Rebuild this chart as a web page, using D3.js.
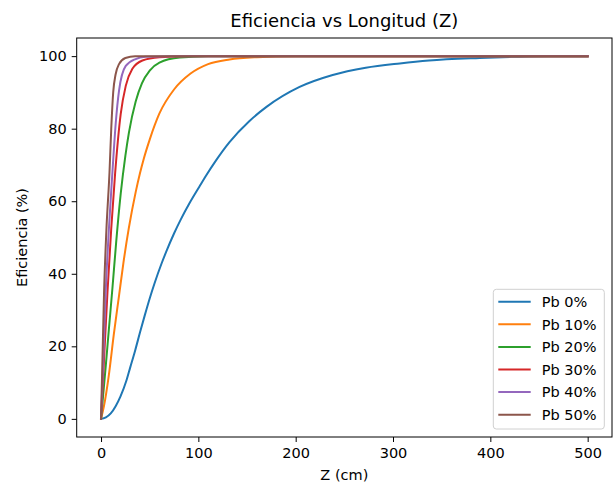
<!DOCTYPE html>
<html>
<head>
<meta charset="utf-8">
<script src="https://cdn.jsdelivr.net/npm/d3@7"></script>
<style>
  html, body { margin: 0; padding: 0; background: #fff; }
  svg { display: block; }
  text { font-family: "DejaVu Sans", sans-serif; fill: #000; }
</style>
</head>
<body>
<svg id="chart" width="614" height="484"></svg>
<script>
// ---- data ----
const seriesNames = ["Pb 0%", "Pb 10%", "Pb 20%", "Pb 30%", "Pb 40%", "Pb 50%"];
const seriesColors = ["#1f77b4", "#ff7f0e", "#2ca02c", "#d62728", "#9467bd", "#8c564b"];

const pb0 = [[0,0],[5,0.4],[10,1.5],[15,3.5],[20,6.2],[26,10.5],[30,14.2],[35,18.8],[40,23.8],[45,28.6],[50,33.2],[55,37.4],[62,42.7],[67,46.1],[75,51.1],[82,55],[91,59.5],[101,64],[108,67.1],[118,71.2],[132,76.3],[152,82],[170,86],[204,91.5],[238,94.8],[272,96.8],[307,98],[337,98.8],[389,99.5],[422,99.8],[460,99.95],[500,100]];
const pb10 = [[0,0],[3,3.5],[8,12],[13,23],[18.5,34],[23,43],[28.5,52.5],[35.6,62.5],[40,67.7],[44,71.8],[50,77],[60,84.2],[75,90.8],[92,95.2],[110,97.8],[132,99.1],[160,99.7],[200,99.95],[500,100]];
const pb20 = [[0,0],[2,6],[5,15],[8,24.5],[11.7,36],[15.5,48.5],[20.2,62],[25,72.5],[28.7,79],[35.6,87.5],[42,92.5],[50,96],[60,98.2],[81,99.6],[110,99.95],[150,100],[500,100]];
const pb30 = [[0,0],[3.1,16.5],[6.6,34.8],[10.5,52.5],[14.4,67.4],[20.2,84],[25.4,91.8],[32.2,96.5],[42.5,98.8],[60,99.7],[90,100],[500,100]];
const pb40 = [[0,0],[2.5,17.5],[4.8,34.8],[8,52],[11.7,68],[15.1,81.5],[18.5,90.5],[25.4,97.3],[35.6,99.2],[45.6,99.8],[70,100],[500,100]];
const pb50 = [[0,0],[1.5,17],[3.1,34.8],[5.5,52],[8.7,68],[10.5,80],[12.5,90],[15,95],[18.5,97.8],[25,99.5],[35,100],[500,100]];
const seriesData = [pb0, pb10, pb20, pb30, pb40, pb50];

const xTicks = [0, 100, 200, 300, 400, 500];
const yTicks = [0, 20, 40, 60, 80, 100];
const titleText = "Eficiencia vs Longitud (Z)";
const xLabel = "Z (cm)";
const yLabel = "Eficiencia (%)";

// ---- layout ----
const pL = 76.7, pR = 612, pT = 38, pB = 437;
const svg = d3.select("#chart");

const x = d3.scaleLinear().domain([-25, 525]).range([pL, pR]);
const y = d3.scaleLinear().domain([-5, 105]).range([pB, pT]);

svg.append("clipPath").attr("id", "clip")
  .append("rect").attr("x", pL).attr("y", pT).attr("width", pR - pL).attr("height", pB - pT);

const line = d3.line().x(d => x(d[0])).y(d => y(d[1])).curve(d3.curveMonotoneX);
const gLines = svg.append("g").attr("clip-path", "url(#clip)");
seriesData.forEach((s, i) => {
  gLines.append("path").datum(s)
    .attr("d", line)
    .attr("fill", "none")
    .attr("stroke", seriesColors[i])
    .attr("stroke-width", 2)
    .attr("stroke-linejoin", "round")
    .attr("stroke-linecap", "square");
});

// axes
const fs = 14.5;
const xAxis = d3.axisBottom(x).tickValues(xTicks).tickSize(5).tickPadding(6).tickFormat(d3.format("d"));
const yAxis = d3.axisLeft(y).tickValues(yTicks).tickSize(5).tickPadding(5).tickFormat(d3.format("d"));

const gx = svg.append("g").attr("transform", `translate(0,${pB})`).call(xAxis);
const gy = svg.append("g").attr("transform", `translate(${pL},0)`).call(yAxis);
[gx, gy].forEach(g => {
  g.select(".domain").remove();
  g.selectAll(".tick line").attr("stroke", "#000").attr("stroke-width", 1);
  g.selectAll(".tick text").attr("font-size", fs).attr("font-family", "DejaVu Sans").attr("fill", "#000");
});

// frame
svg.append("rect").attr("x", pL).attr("y", pT).attr("width", pR - pL).attr("height", pB - pT)
  .attr("fill", "none").attr("stroke", "#000").attr("stroke-width", 1);

// title and labels
svg.append("text").attr("x", (pL + pR) / 2).attr("y", 27).attr("text-anchor", "middle")
  .attr("font-size", 18).text(titleText);
svg.append("text").attr("x", (pL + pR) / 2).attr("y", 479.5).attr("text-anchor", "middle")
  .attr("font-size", fs).text(xLabel);
svg.append("text").attr("transform", `translate(27,${(pT + pB) / 2}) rotate(-90)`)
  .attr("text-anchor", "middle").attr("font-size", fs).text(yLabel);

// legend
const lg = svg.append("g");
lg.append("rect").attr("x", 493.3).attr("y", 289.3).attr("width", 111).attr("height", 139.7)
  .attr("rx", 3).attr("fill", "#fff").attr("fill-opacity", 0.8).attr("stroke", "#d0d0d0").attr("stroke-width", 1);
seriesNames.forEach((n, i) => {
  const cy = 301.7 + i * 22.6;
  lg.append("line").attr("x1", 498.3).attr("x2", 530.7).attr("y1", cy).attr("y2", cy)
    .attr("stroke", seriesColors[i]).attr("stroke-width", 2);
  lg.append("text").attr("x", 541.7).attr("y", cy).attr("dy", "0.36em").attr("font-size", fs).text(n);
});
</script>
</body>
</html>
